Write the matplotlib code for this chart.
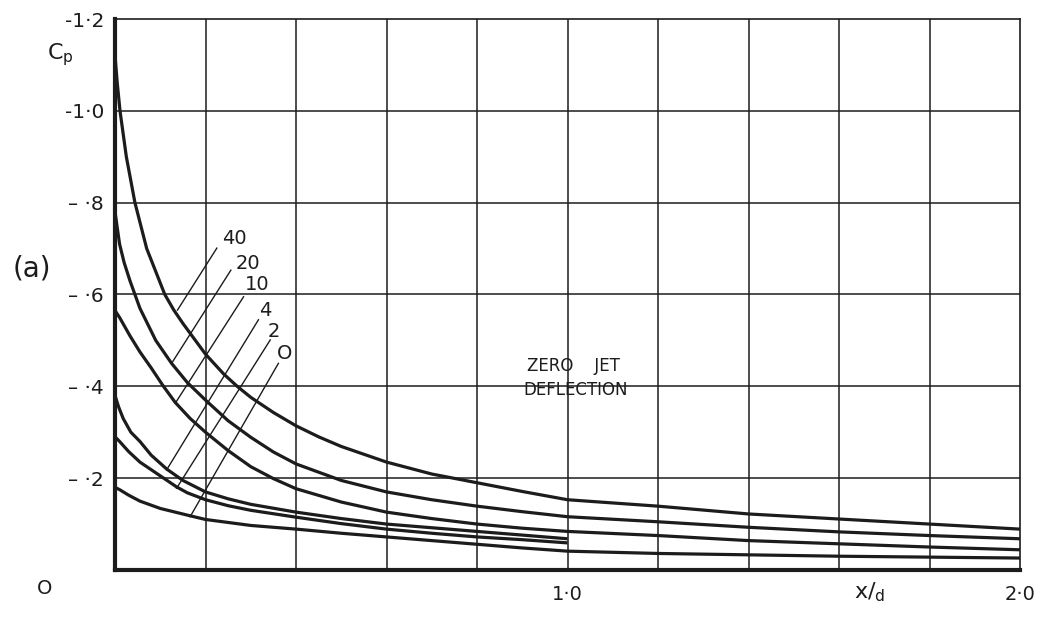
import matplotlib
matplotlib.use("Agg")
import matplotlib.pyplot as plt

# Cp against x/d for several jet pressure ratios (zero jet deflection)
x40 = [0, 0.005, 0.011, 0.025, 0.044, 0.07, 0.11, 0.13, 0.15, 0.2, 0.24, 0.27, 0.3, 0.35, 0.4, 0.45, 0.5, 0.6, 0.7, 0.8, 0.9, 1.0, 1.2, 1.4, 1.6, 1.8, 2.0]
cp40 = [-1.12, -1.06, -1.0, -0.9, -0.8, -0.7, -0.6, -0.566, -0.537, -0.47, -0.427, -0.40, -0.376, -0.343, -0.314, -0.290, -0.269, -0.235, -0.209, -0.19, -0.171, -0.153, -0.139, -0.122, -0.111, -0.10, -0.089]

x20 = [0, 0.01, 0.02, 0.033, 0.055, 0.09, 0.125, 0.16, 0.2, 0.25, 0.3, 0.35, 0.4, 0.5, 0.6, 0.7, 0.8, 0.9, 1.0, 1.2, 1.4, 1.6, 1.8, 2.0]
cp20 = [-0.78, -0.71, -0.67, -0.63, -0.57, -0.50, -0.45, -0.408, -0.37, -0.325, -0.289, -0.257, -0.231, -0.195, -0.17, -0.153, -0.139, -0.127, -0.116, -0.105, -0.093, -0.083, -0.075, -0.068]

x10 = [0, 0.01, 0.033, 0.055, 0.08, 0.107, 0.133, 0.166, 0.2, 0.25, 0.3, 0.35, 0.4, 0.5, 0.6, 0.7, 0.8, 0.9, 1.0, 1.2, 1.4, 1.6, 1.8, 2.0]
cp10 = [-0.565, -0.55, -0.51, -0.475, -0.44, -0.40, -0.365, -0.33, -0.30, -0.26, -0.225, -0.199, -0.177, -0.148, -0.126, -0.112, -0.10, -0.091, -0.084, -0.075, -0.064, -0.057, -0.050, -0.044]

x4 = [0, 0.008, 0.018, 0.035, 0.055, 0.08, 0.114, 0.15, 0.2, 0.25, 0.3, 0.4, 0.5, 0.6, 0.7, 0.8, 0.9, 1.0]
cp4 = [-0.38, -0.355, -0.33, -0.30, -0.28, -0.25, -0.22, -0.195, -0.17, -0.155, -0.143, -0.126, -0.112, -0.10, -0.092, -0.084, -0.076, -0.068]

x2 = [0, 0.01, 0.03, 0.055, 0.1, 0.136, 0.16, 0.2, 0.25, 0.3, 0.4, 0.5, 0.6, 0.7, 0.8, 0.9, 1.0]
cp2 = [-0.29, -0.28, -0.258, -0.235, -0.205, -0.181, -0.168, -0.153, -0.14, -0.13, -0.115, -0.101, -0.089, -0.08, -0.072, -0.066, -0.059]

x0 = [0, 0.01, 0.03, 0.055, 0.1, 0.166, 0.2, 0.3, 0.4, 0.5, 0.6, 0.7, 0.8, 0.9, 1.0, 1.2, 1.4, 1.6, 1.8, 2.0]
cp0 = [-0.18, -0.175, -0.163, -0.150, -0.134, -0.118, -0.11, -0.097, -0.089, -0.080, -0.072, -0.064, -0.056, -0.048, -0.041, -0.036, -0.033, -0.030, -0.028, -0.026]

curve_names = ["40", "20", "10", "4", "2", "O"]

# leader lines: label position, line start (near label), line end (on curve)
label_x = [0.263, 0.293, 0.315, 0.333, 0.352, 0.374]
label_y = [-0.722, -0.668, -0.621, -0.566, -0.519, -0.472]
lead_x0 = [0.225, 0.256, 0.284, 0.317, 0.343, 0.361]
lead_y0 = [-0.701, -0.653, -0.595, -0.545, -0.501, -0.450]
lead_x1 = [0.138, 0.125, 0.133, 0.114, 0.136, 0.166]
lead_y1 = [-0.566, -0.450, -0.363, -0.218, -0.178, -0.116]

grid_x = [0.2, 0.4, 0.6, 0.8, 1.0, 1.2, 1.4, 1.6, 1.8]
grid_y = [-0.2, -0.4, -0.6, -0.8, -1.0]
ytick_vals = [-1.2, -1.0, -0.8, -0.6, -0.4, -0.2]
ytick_text = ["-1·2", "-1·0", "– ·8", "– ·6", "– ·4", "– ·2"]
xtick_vals = [1.0, 2.0]
xtick_text = ["1·0", "2·0"]

ink = "#1c1c1c"
plt.rcParams["font.family"] = ["DejaVu Sans"]
plt.rcParams["mathtext.fontset"] = "dejavusans"

fig = plt.figure(figsize=(10.4, 6.17), dpi=100)
ax = fig.add_axes([0.1106, 0.0762, 0.8702, 0.893])

ax.set_xlim(0, 2.0)
ax.set_ylim(0, -1.2)

for gx in grid_x:
    ax.axvline(gx, color=ink, lw=1.1, zorder=1)
for gy in grid_y:
    ax.axhline(gy, color=ink, lw=1.1, zorder=1)

for xs, ys in [(x40, cp40), (x20, cp20), (x10, cp10), (x4, cp4), (x2, cp2), (x0, cp0)]:
    ax.plot(xs, ys, color=ink, lw=2.3, solid_capstyle="butt", solid_joinstyle="round", zorder=3)

for i, name in enumerate(curve_names):
    ax.plot([lead_x0[i], lead_x1[i]], [lead_y0[i], lead_y1[i]], color=ink, lw=1.0, zorder=2)
    ax.text(label_x[i], label_y[i], name, fontsize=14, color=ink, ha="center", va="center")

ax.text(0.91, -0.444, "ZERO    JET", fontsize=12, color=ink, ha="left", va="center")
ax.text(0.902, -0.392, "DEFLECTION", fontsize=12, color=ink, ha="left", va="center")

ax.set_xticks(xtick_vals)
ax.set_xticklabels(xtick_text, fontsize=14, color=ink)
ax.set_yticks(ytick_vals)
ax.set_yticklabels(ytick_text, fontsize=14.5, color=ink)
ax.tick_params(axis="both", length=0)
ax.tick_params(axis="x", pad=11)
ax.tick_params(axis="y", pad=8)

for side in ["left", "bottom"]:
    ax.spines[side].set_linewidth(3.0)
    ax.spines[side].set_color(ink)
for side in ["top", "right"]:
    ax.spines[side].set_linewidth(1.2)
    ax.spines[side].set_color(ink)

fig.text(60 / 1040, 1 - 55 / 617, r"$\mathregular{C_p}$", fontsize=16, color=ink, ha="center", va="center")
fig.text(32 / 1040, 1 - 268 / 617, "(a)", fontsize=20, color=ink, ha="center", va="center")
fig.text(45 / 1040, 1 - 588 / 617, "O", fontsize=14, color=ink, ha="center", va="center")
fig.text(870 / 1040, 1 - 592 / 617, r"$\mathregular{x/_{d}}$", fontsize=16, color=ink, ha="center", va="center")

fig.savefig("out.png", dpi=100, facecolor="white")
